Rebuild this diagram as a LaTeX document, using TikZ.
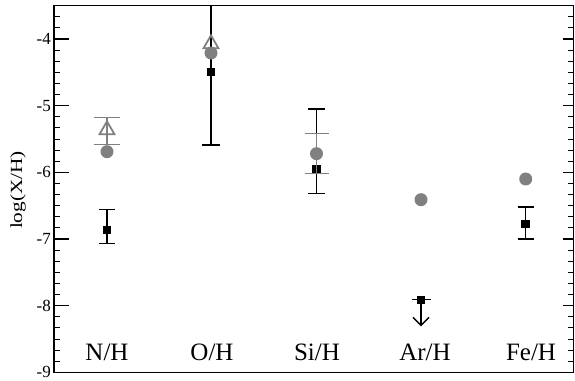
\documentclass[tikz,border=0pt]{standalone}
\usepackage{fontspec}
\setmainfont{Liberation Serif}
\usetikzlibrary{arrows.meta}
\definecolor{pgray}{RGB}{128,128,128}
\tikzset{
  frameline/.style={line width=1.2pt, black},
  majtick/.style={line width=1.3pt, black},
  mintick/.style={line width=0.8pt, black},
  blackbar/.style={line width=1.4pt, black},
  graybar/.style={line width=1.3pt, pgray},
  sqmark/.style={fill=black, draw=none, minimum width=8.5pt, minimum height=8pt, inner sep=0pt, outer sep=0pt},
  gcirc/.style={circle, fill=pgray, draw=none, minimum size=13pt, inner sep=0pt},
  tri/.style={draw=pgray, line width=1.8pt, line join=miter},
  ticklab/.style={anchor=east, inner sep=0pt, font=\fontsize{17}{17}\selectfont},
  elem/.style={anchor=base, inner sep=0pt, font=\fontsize{25}{25}\selectfont},
}
\begin{document}
\begin{tikzpicture}
\useasboundingbox (0,0) rectangle (575pt,380pt);
\begin{scope}[x=1pt,y=66.667pt,yshift=607.67pt]
% ticks
\foreach \v in {-9,...,-4} {
  \draw[majtick] (54,\v) -- (69,\v);
  \draw[majtick] (563,\v) -- (573.5,\v);
}
\foreach \i in {1,...,33} {
  \pgfmathsetmacro{\vv}{-9+\i/6}
  \draw[mintick] (54,\vv) -- (60,\vv);
  \draw[mintick] (567.5,\vv) -- (573.5,\vv);
}
\foreach \v in {-4,-5,-6,-7,-8,-9} {
  \node[ticklab] at (51,\v) {\v};
}
\draw[frameline] (54,-9) rectangle (573.5,-3.5);
% y label
\node[rotate=90, inner sep=0pt, font=\fontsize{17}{17}\selectfont] (ylab) at (18,-6.265) {\scalebox{1.25}[1]{log(X/H)}};
% element labels
\node[elem] (lN) at (107,-8.815) {N/H};
\node[elem] (lO) at (212,-8.815) {O/H};
\node[elem] (lSi) at (317,-8.815) {Si/H};
\node[elem] (lAr) at (425,-8.815) {Ar/H};
\node[elem] (lFe) at (531,-8.815) {Fe/H};
% black error bars
\draw[blackbar] (99,-6.56) -- (115,-6.56) (107,-6.56) -- (107,-7.07) (99,-7.07) -- (115,-7.07);
\draw[blackbar] (211,-3.5) -- (211,-5.59) (202,-5.59) -- (220,-5.59);
\draw[blackbar] (308,-5.05) -- (325,-5.05) (316.5,-5.05) -- (316.5,-6.32) (308,-6.32) -- (325,-6.32);
\draw[blackbar] (517.5,-6.52) -- (534,-6.52) (525.7,-6.52) -- (525.7,-7.0) (517.5,-7.0) -- (534,-7.0);
% Ar upper limit
\draw[blackbar] (411.5,-7.91) -- (431,-7.91);
\draw[blackbar, -{Straight Barb[length=8pt,width=16pt,line width=1.4pt]}] (421,-7.91) -- (421,-8.31);
% black squares
\node[sqmark] (sqN) at (107,-6.87) {};
\node[sqmark] (sqO) at (211,-4.50) {};
\node[sqmark] (sqSi) at (316.5,-5.95) {};
\node[sqmark] (sqAr) at (421,-7.91) {};
\node[sqmark] (sqFe) at (525.7,-6.78) {};
% gray error bars
\draw[graybar] (94,-5.18) -- (120,-5.18) (107,-5.18) -- (107,-5.58) (94,-5.58) -- (120,-5.58);
\draw[graybar] (304.5,-5.42) -- (328.5,-5.42) (316.5,-5.42) -- (316.5,-6.02) (304.5,-6.02) -- (328.5,-6.02);
% gray circles
\node[gcirc] (cN) at (107,-5.69) {};
\node[gcirc] (cO) at (211,-4.21) {};
\node[gcirc] (cSi) at (316.5,-5.72) {};
\node[gcirc] (cAr) at (421,-6.41) {};
\node[gcirc] (cFe) at (525.7,-6.10) {};
% gray triangles (open)
\draw[tri] (107,-5.34) ++(0,7pt) -- ++(7.5pt,-13pt) -- ++(-15pt,0) -- cycle;
\draw[tri] (211,-4.05) ++(0,7pt) -- ++(7.5pt,-13pt) -- ++(-15pt,0) -- cycle;
\end{scope}
\end{tikzpicture}
\end{document}
